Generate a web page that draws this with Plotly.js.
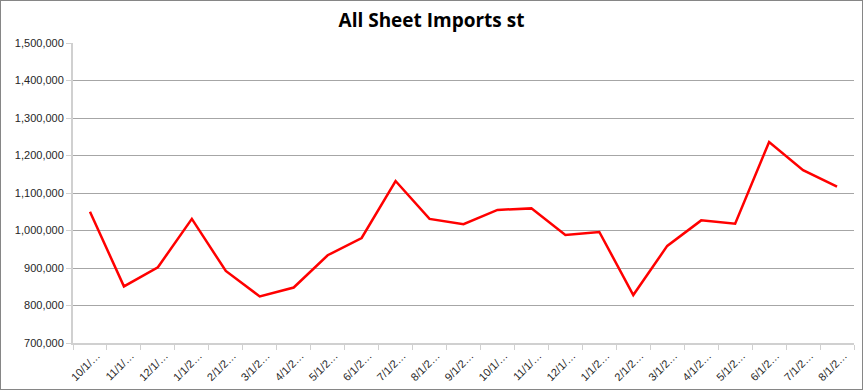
<!DOCTYPE html>
<html>
<head>
<meta charset="utf-8">
<script src="https://cdn.plot.ly/plotly-3.0.1.min.js"></script>
<style>
  html, body { margin: 0; padding: 0; background: #fff; }
  #chart { width: 861px; height: 388px; border: 1px solid #868686; }
</style>
</head>
<body>
<div id="chart"></div>
<script>
// Tick labels as shown (truncated in the original)
const categories = [
  "10/1/…", "11/1/…", "12/1/…", "1/1/2…", "2/1/2…", "3/1/2…", "4/1/2…", "5/1/2…",
  "6/1/2…", "7/1/2…", "8/1/2…", "9/1/2…", "10/1/…", "11/1/…", "12/1/…", "1/1/2…",
  "2/1/2…", "3/1/2…", "4/1/2…", "5/1/2…", "6/1/2…", "7/1/2…", "8/1/2…"
];
// Sheet imports, short tons
const imports = [
  1050000, 851000, 902000, 1031000, 892000, 824000, 848000, 934000,
  980000, 1132000, 1031000, 1017000, 1055000, 1059000, 988000, 996000,
  828000, 959000, 1027000, 1018000, 1236000, 1161000, 1117000
];
const yTicks = [700000, 800000, 900000, 1000000, 1100000, 1200000, 1300000, 1400000, 1500000];

const idx = categories.map((_, i) => i);
const n = categories.length;

const trace = {
  x: idx,
  y: imports,
  type: "scatter",
  mode: "lines",
  line: { color: "#ff0000", width: 2.5 },
  hoverinfo: "y"
};

const tickFont = { family: "Liberation Sans, Arial, sans-serif", size: 11, color: "#262626" };

const layout = {
  width: 861,
  height: 388,
  margin: { l: 72, r: 8, t: 42, b: 46 },
  paper_bgcolor: "#ffffff",
  plot_bgcolor: "#ffffff",
  showlegend: false,
  title: {
    text: "<b>All Sheet Imports st</b>",
    font: { family: "Open Sans, Liberation Sans, Arial, sans-serif", size: 19, color: "#000000" },
    x: 0.5, xanchor: "center", xref: "container",
    y: 0.995, yanchor: "top", yref: "container",
    pad: { t: 11 }
  },
  xaxis: {
    range: [-0.5, n - 0.5],
    tickmode: "array",
    tickvals: idx,
    ticktext: categories,
    tickangle: -45,
    ticks: "",
    ticklabelshift: 7,
    showgrid: false,
    zeroline: false,
    showline: true,
    linecolor: "#d0d0d0",
    linewidth: 2,
    tickfont: tickFont,
    fixedrange: true,
    minor: { tick0: -0.5, dtick: 1, ticks: "outside", ticklen: 5, tickcolor: "#d0d0d0", tickwidth: 1, showgrid: false }
  },
  yaxis: {
    range: [700000, 1500000],
    tickmode: "array",
    tickvals: yTicks,
    tickformat: ",d",
    ticks: "outside",
    ticklen: 5,
    tickcolor: "#d0d0d0",
    showgrid: true,
    gridcolor: "#a6a6a6",
    gridwidth: 1,
    zeroline: false,
    showline: true,
    linecolor: "#d0d0d0",
    linewidth: 2,
    tickfont: tickFont,
    fixedrange: true
  }
};

Plotly.newPlot("chart", [trace], layout, { displayModeBar: false, staticPlot: true });
</script>
</body>
</html>
